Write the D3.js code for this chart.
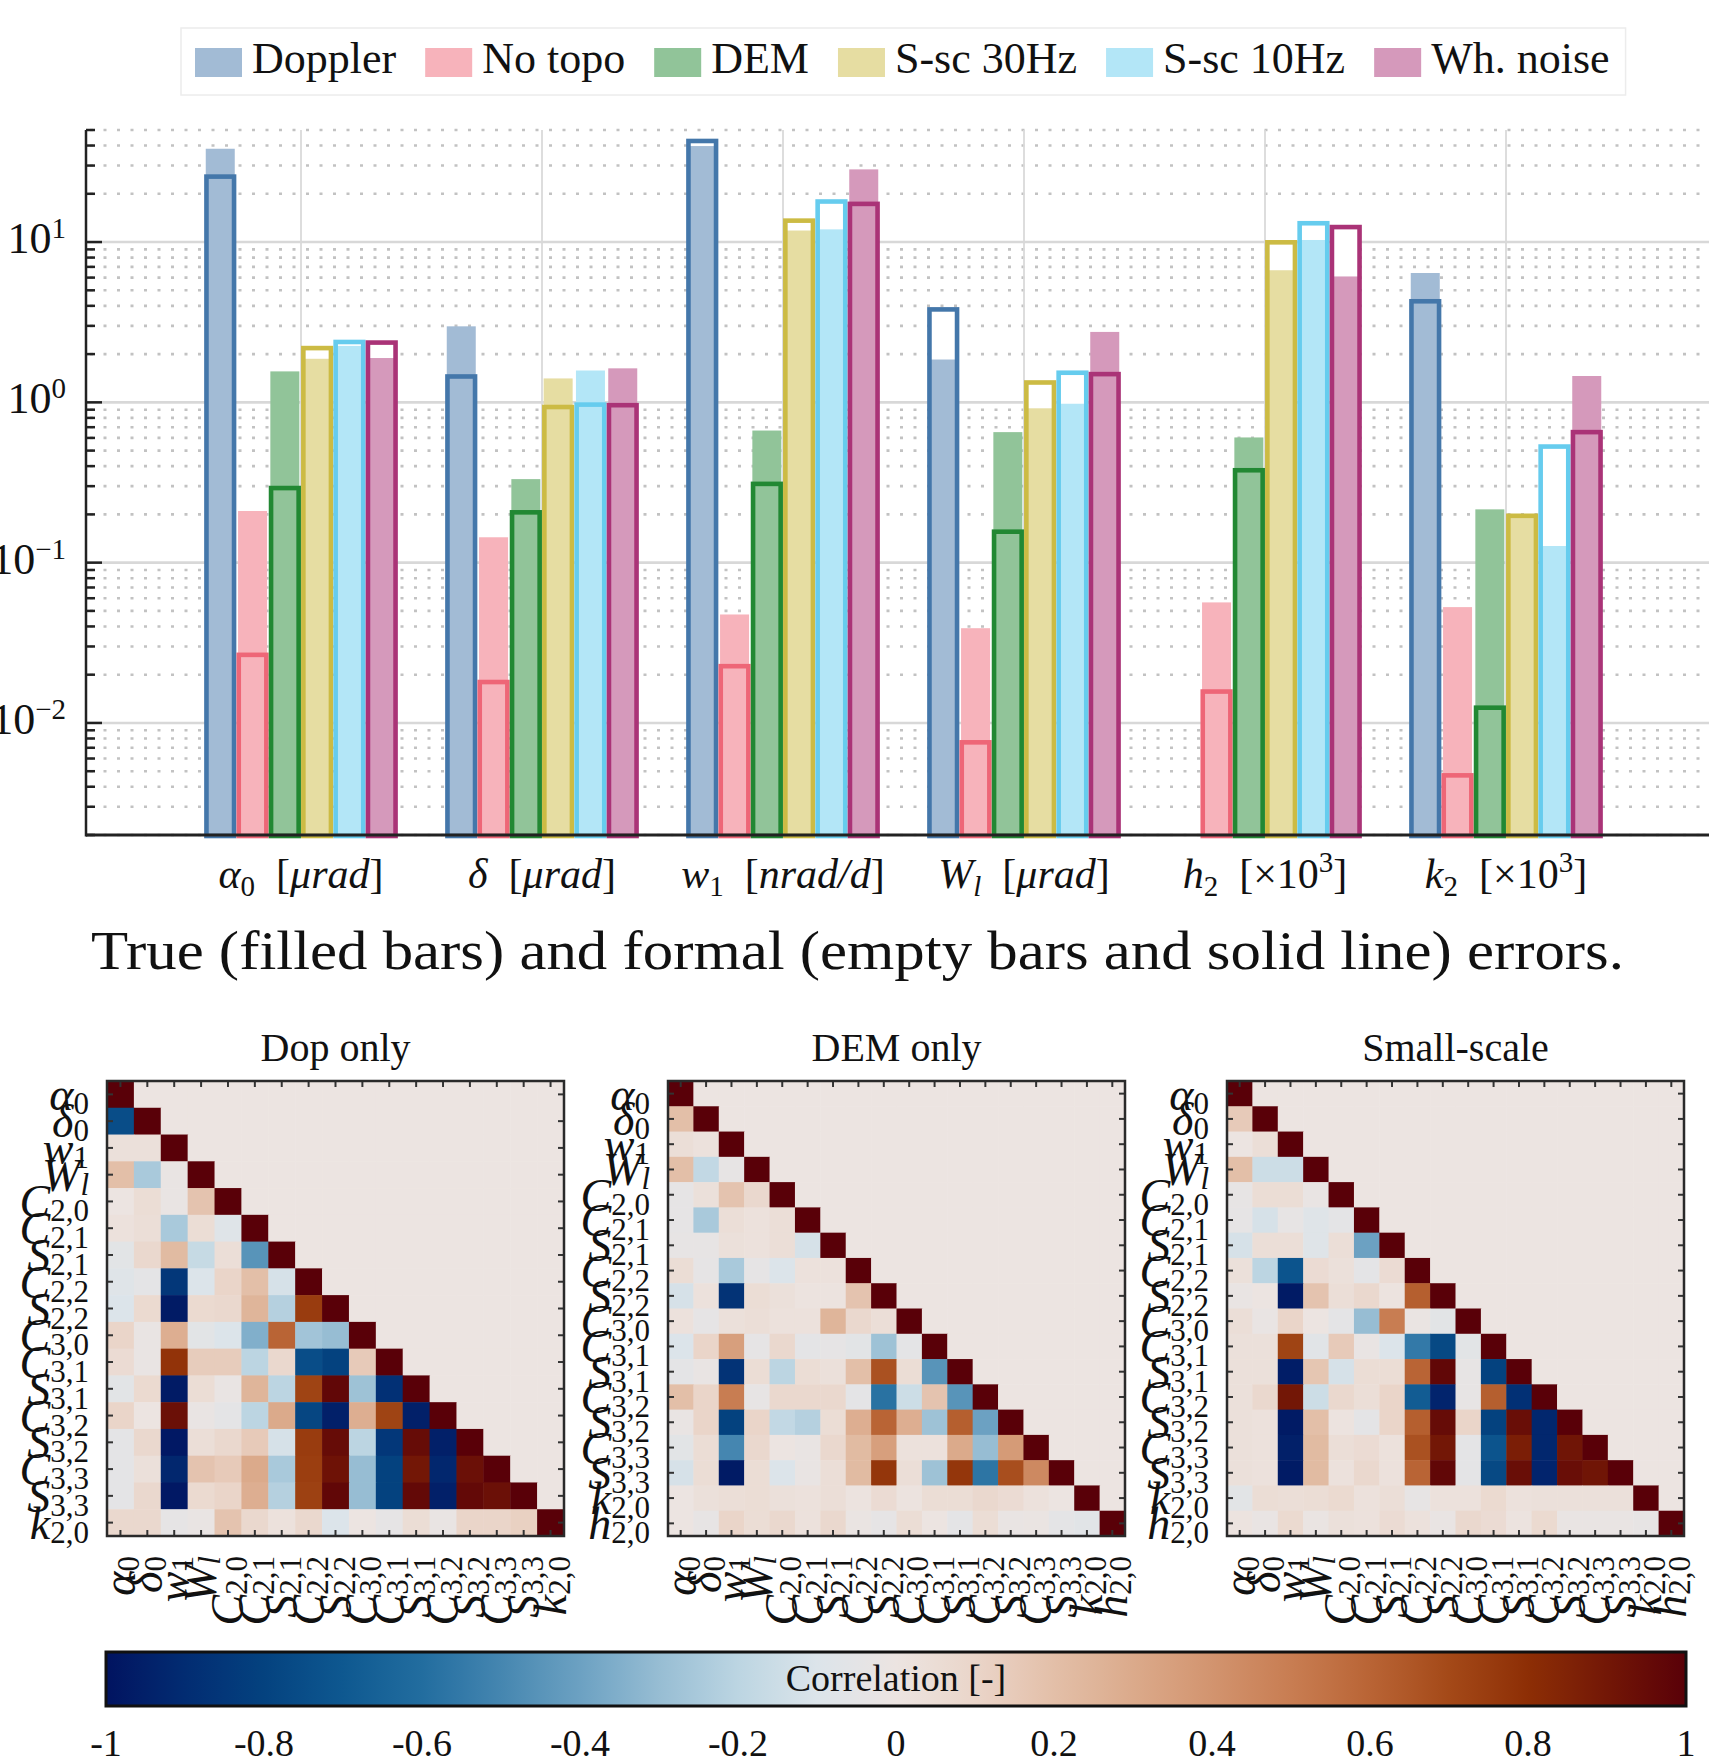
<!DOCTYPE html>
<html>
<head>
<meta charset="utf-8">
<script src="https://cdn.jsdelivr.net/npm/d3@7"></script>
<style>
  body { margin: 0; background: #fff; }
  svg { display: block; }
  text { font-family: "Liberation Serif", "DejaVu Serif", serif; fill: #111; }
</style>
</head>
<body>
<div id="chart"></div>
<script>
// ---------- bar chart data ----------
const series = ['Doppler', 'No topo', 'DEM', 'S-sc 30Hz', 'S-sc 10Hz', 'Wh. noise']
const seriesColors = ['#4477aa', '#ee6677', '#228833', '#ccbb44', '#66ccee', '#aa3377']

const paramSymbols = ['α', 'δ', 'w', 'W', 'h', 'k']
const paramSubs = ['0', '', '1', 'l', '2', '2']
const paramUnits = ['μrad', 'μrad', 'nrad/d', 'μrad', '×10^3', '×10^3']

// true errors (filled bars), one row per series, one value per parameter
const trueErrors = [
  [38.2, 2.98, 39.7, 1.85, null, 6.41],
  [0.21, 0.144, 0.0475, 0.039, 0.0565, 0.0528],
  [1.56, 0.332, 0.667, 0.652, 0.604, 0.215],
  [1.87, 1.41, 11.8, 0.918, 6.67, 0.19],
  [2.25, 1.58, 12.0, 0.98, 10.3, 0.127],
  [1.89, 1.63, 28.4, 2.75, 6.1, 1.46],
]
// formal errors (empty bars)
const formalErrors = [
  [25.6, 1.45, 42.7, 3.80, null, 4.27],
  [0.0266, 0.018, 0.0226, 0.00757, 0.0157, 0.00471],
  [0.292, 0.206, 0.31, 0.156, 0.377, 0.01245],
  [2.18, 0.935, 13.6, 1.33, 9.96, 0.196],
  [2.38, 0.968, 17.9, 1.53, 13.1, 0.53],
  [2.36, 0.96, 17.3, 1.50, 12.4, 0.652],
]

// ---------- correlation matrices (lower triangles, diagonal = 1) ----------
const labelsDop = [['α','0'],['δ','0'],['w','1'],['W','l'],['C','2,0'],['C','2,1'],['S','2,1'],['C','2,2'],['S','2,2'],
  ['C','3,0'],['C','3,1'],['S','3,1'],['C','3,2'],['S','3,2'],['C','3,3'],['S','3,3'],['k','2,0']]
const labelsFull = labelsDop.concat([['h','2,0']])

const corrDop = [
  [],
  [-0.75],
  [0.03, 0.03],
  [0.2, -0.25, -0.02],
  [0.0, 0.05, -0.02, 0.18],
  [0.02, 0.04, -0.25, 0.05, -0.08],
  [-0.06, 0.08, 0.22, -0.17, 0.04, -0.45],
  [-0.08, -0.05, -0.85, -0.1, 0.1, 0.2, -0.12],
  [-0.1, 0.07, -0.97, 0.07, 0.08, 0.25, -0.22, 0.75],
  [0.1, -0.02, 0.28, -0.06, -0.1, -0.35, 0.6, -0.27, -0.3],
  [0.06, -0.02, 0.78, 0.14, 0.14, -0.2, 0.08, -0.75, -0.8, 0.15],
  [-0.06, 0.07, -0.97, 0.05, -0.02, 0.25, -0.2, 0.72, 0.97, -0.28, -0.88],
  [0.1, 0.0, 0.93, -0.02, -0.05, -0.2, 0.3, -0.78, -0.95, 0.28, 0.72, -0.95],
  [-0.05, 0.08, -0.98, 0.04, 0.08, 0.15, -0.12, 0.75, 0.95, -0.2, -0.85, 0.95, -0.95],
  [-0.05, 0.03, -0.92, 0.18, 0.15, 0.3, -0.25, 0.74, 0.92, -0.3, -0.8, 0.9, -0.92, 0.93],
  [-0.05, 0.08, -0.98, 0.07, 0.1, 0.28, -0.22, 0.73, 0.97, -0.3, -0.8, 0.96, -0.95, 0.96, 0.93],
  [0.08, 0.08, -0.04, -0.02, 0.18, 0.08, 0.02, 0.08, -0.1, 0.0, -0.04, 0.05, -0.02, 0.1, 0.1, 0.12],
]

const corrDem = [
  [],
  [0.2],
  [0.04, 0.02],
  [0.2, -0.18, -0.03],
  [-0.04, 0.03, 0.18, 0.08],
  [-0.04, -0.25, 0.04, 0.02, 0.04],
  [-0.03, -0.03, 0.03, 0.02, 0.04, -0.12],
  [0.05, -0.04, -0.25, -0.04, -0.1, 0.02, 0.02],
  [-0.12, 0.02, -0.87, 0.05, 0.03, 0.01, 0.01, 0.18],
  [0.02, -0.04, 0.03, 0.04, 0.02, 0.02, 0.25, 0.08, 0.04],
  [-0.1, 0.1, 0.35, -0.04, 0.08, -0.05, -0.04, -0.06, -0.28, -0.05],
  [-0.05, -0.02, -0.87, 0.05, -0.2, 0.05, 0.03, 0.2, 0.67, 0.05, -0.45],
  [0.2, 0.1, 0.5, -0.03, 0.08, 0.08, 0.08, -0.05, -0.58, -0.15, 0.18, -0.45],
  [-0.02, 0.1, -0.8, 0.1, -0.18, -0.22, 0.05, 0.28, 0.6, 0.28, -0.28, 0.62, -0.4],
  [-0.06, 0.05, -0.5, 0.08, 0.0, -0.02, 0.08, 0.22, 0.35, 0.02, 0.02, 0.3, -0.3, 0.37],
  [-0.12, 0.05, -0.97, 0.05, -0.1, -0.02, 0.04, 0.22, 0.77, 0.04, -0.28, 0.77, -0.57, 0.68, 0.45],
  [0.0, 0.03, 0.04, 0.05, 0.03, 0.02, 0.04, 0.01, 0.06, 0.01, 0.05, 0.05, 0.08, 0.06, 0.02, 0.0],
  [0.0, -0.03, 0.1, 0.05, 0.08, 0.02, 0.08, -0.01, -0.04, 0.05, 0.0, -0.05, 0.05, -0.02, -0.01, -0.05, -0.07],
]

const corrSmall = [
  [],
  [0.15],
  [0.0, 0.04],
  [0.2, -0.15, -0.15],
  [-0.03, 0.05, 0.05, -0.02],
  [-0.04, -0.12, -0.03, -0.08, -0.05],
  [-0.12, 0.04, 0.04, -0.08, 0.04, -0.4],
  [0.03, -0.2, -0.72, 0.06, 0.03, -0.05, 0.06],
  [-0.02, 0.0, -0.97, 0.18, 0.04, 0.08, 0.01, 0.62],
  [0.04, -0.02, 0.1, 0.0, -0.05, -0.3, 0.5, -0.01, -0.06],
  [0.03, 0.03, 0.72, -0.07, 0.15, -0.02, -0.1, -0.55, -0.77, -0.06],
  [0.03, 0.03, -0.96, 0.17, -0.12, 0.05, 0.05, 0.6, 0.97, -0.03, -0.8],
  [0.03, 0.08, 0.9, -0.15, 0.08, 0.04, 0.1, -0.68, -0.93, -0.03, 0.62, -0.88],
  [0.03, 0.02, -0.97, 0.2, 0.01, -0.05, 0.1, 0.62, 0.95, 0.1, -0.8, 0.94, -0.92],
  [0.03, 0.02, -0.95, 0.22, 0.04, 0.06, 0.02, 0.67, 0.9, -0.05, -0.72, 0.87, -0.92, 0.91],
  [0.03, 0.02, -0.97, 0.22, 0.02, 0.08, 0.02, 0.6, 0.97, -0.05, -0.77, 0.94, -0.93, 0.94, 0.91],
  [-0.06, 0.05, 0.04, 0.05, 0.07, 0.02, 0.04, -0.03, 0.02, 0.02, 0.07, 0.02, 0.03, 0.03, 0.03, 0.03],
  [0.01, -0.02, 0.07, -0.01, 0.03, 0.02, 0.06, 0.02, -0.02, 0.08, 0.06, 0.01, 0.07, -0.02, -0.02, -0.02, -0.03],
]

const panelTitles = ['Dop only', 'DEM only', 'Small-scale']

// diverging colormap (vik-like), stops from -1 to 1 every 0.1
const vikStops = ['#011360', '#022c72', '#04427f', '#0e5890', '#226d9f', '#4586b0', '#6ca1c2', '#97bdd3',
  '#bcd5e2', '#dce4ea', '#ece4e1', '#ead5c9', '#e3bfa8', '#dbaa8b', '#d2946f', '#c87d52', '#b96435',
  '#a44918', '#8d2e05', '#731706', '#590008']
const colorTicks = d3.ticks(-1, 1, 10)

// ---------- setup ----------
const W = 1709, H = 1763
const svg = d3.select('#chart').append('svg').attr('width', W).attr('height', H)

const color = d3.scaleLinear()
  .domain(vikStops.map((_, i) => -1 + i * 0.1))
  .range(vikStops)
  .interpolate(d3.interpolateRgb)
  .clamp(true)

// ---------- bar chart ----------
const plot = { left: 86, right: 1709, top: 130, bottom: 835 }
const y = d3.scaleLog().domain([0.002, 50]).range([plot.bottom, plot.top])
const x = d3.scalePoint().domain(d3.range(paramSymbols.length)).range([301, 1506])
const slot = 32.3
const inner = d3.scaleBand().domain(d3.range(series.length)).range([-3 * slot, 3 * slot])
const isMajor = t => Math.abs(Math.log10(t) - Math.round(Math.log10(t))) < 1e-6

const grid = svg.append('g')
const ticks = y.ticks()

grid.selectAll('line.minor')
  .data(ticks.filter(t => !isMajor(t)))
  .join('line')
    .attr('class', 'minor')
    .attr('x1', plot.left + 4).attr('x2', plot.right)
    .attr('y1', d => y(d)).attr('y2', d => y(d))
    .attr('stroke', '#c2c2c2').attr('stroke-width', 2.6)
    .attr('stroke-dasharray', '3 10.5')

grid.selectAll('line.vert')
  .data(x.domain())
  .join('line')
    .attr('class', 'vert')
    .attr('x1', d => x(d)).attr('x2', d => x(d))
    .attr('y1', plot.top).attr('y2', plot.bottom)
    .attr('stroke', '#dadada').attr('stroke-width', 1.8)

grid.selectAll('line.major')
  .data(ticks.filter(isMajor))
  .join('line')
    .attr('class', 'major')
    .attr('x1', plot.left).attr('x2', plot.right)
    .attr('y1', d => y(d)).attr('y2', d => y(d))
    .attr('stroke', '#d8d8d8').attr('stroke-width', 2.6)

const bars = []
series.forEach((s, si) => {
  paramSymbols.forEach((p, pi) => {
    bars.push({ si, pi, t: trueErrors[si][pi], f: formalErrors[si][pi],
      cx: x(pi) + inner(si) + inner.bandwidth() / 2 })
  })
})
const present = bars.filter(d => d.t != null)
const light = c => d3.interpolateRgb(c, '#fff')(0.5)

const barG = svg.append('g')
barG.selectAll('rect.under')
  .data(present)
  .join('rect')
    .attr('class', 'under')
    .attr('x', d => d.cx - 13.8).attr('width', 27.6)
    .attr('y', d => y(d.f)).attr('height', d => plot.bottom - y(d.f))
    .attr('fill', '#fff')
barG.selectAll('rect.fillbar')
  .data(present)
  .join('rect')
    .attr('class', 'fillbar')
    .attr('x', d => d.cx - 14.5).attr('width', 29)
    .attr('y', d => y(d.t)).attr('height', d => plot.bottom - y(d.t))
    .attr('fill', d => light(seriesColors[d.si]))
barG.selectAll('rect.outline')
  .data(present)
  .join('rect')
    .attr('class', 'outline')
    .attr('x', d => d.cx - 13.8).attr('width', 27.6)
    .attr('y', d => y(d.f)).attr('height', d => plot.bottom - y(d.f) + 1)
    .attr('fill', 'none')
    .attr('stroke', d => seriesColors[d.si])
    .attr('stroke-width', 4.6)

// axes
const axG = svg.append('g').attr('stroke', '#222')
axG.append('line').attr('x1', plot.left).attr('x2', plot.left)
  .attr('y1', plot.top).attr('y2', plot.bottom + 1.5).attr('stroke-width', 2.5)
axG.append('line').attr('x1', plot.left).attr('x2', plot.right)
  .attr('y1', plot.bottom).attr('y2', plot.bottom).attr('stroke-width', 3)
axG.selectAll('line.tick')
  .data(ticks)
  .join('line')
    .attr('class', 'tick')
    .attr('x1', plot.left).attr('x2', d => plot.left + (isMajor(d) ? 16 : 9))
    .attr('y1', d => y(d)).attr('y2', d => y(d))
    .attr('stroke-width', 2.5)

svg.append('g').selectAll('text')
  .data(ticks.filter(isMajor))
  .join('text')
    .attr('x', 66).attr('y', d => y(d) + 11)
    .attr('text-anchor', 'end')
    .attr('font-size', 44)
    .each(function (d) {
      const e = Math.round(Math.log10(d))
      const t = d3.select(this)
      t.append('tspan').text('10')
      t.append('tspan').attr('font-size', 29).attr('dy', -15).text(e < 0 ? '−' + (-e) : e)
    })

// category labels
svg.append('g').selectAll('text')
  .data(x.domain())
  .join('text')
    .attr('x', d => x(d)).attr('y', 888)
    .attr('text-anchor', 'middle')
    .attr('font-size', 42)
    .each(function (i) {
      const t = d3.select(this)
      t.append('tspan').attr('font-style', 'italic').text(paramSymbols[i])
      let shift = 0
      if (paramSubs[i]) {
        t.append('tspan').attr('font-size', 29).attr('dy', 8)
          .attr('font-style', paramSubs[i] === 'l' ? 'italic' : 'normal').text(paramSubs[i])
        shift = 8
      }
      t.append('tspan').attr('dy', -shift).text('\u2002[')
      const u = paramUnits[i]
      if (u.includes('^')) {
        const [base, pow] = u.split('^')
        t.append('tspan').text(base)
        t.append('tspan').attr('font-size', 29).attr('dy', -16).text(pow)
        t.append('tspan').attr('dy', 16).text(']')
      } else {
        t.append('tspan').attr('font-style', 'italic').text(u)
        t.append('tspan').text(']')
      }
    })

// legend
const legG = svg.append('g')
const legBox = legG.append('rect')
let lx = 195
series.forEach((s, i) => {
  legG.append('rect').attr('x', lx).attr('y', 48).attr('width', 47).attr('height', 29)
    .attr('fill', light(seriesColors[i]))
  const t = legG.append('text').attr('x', lx + 57).attr('y', 73).attr('font-size', 44).text(s)
  lx = lx + 57 + t.node().getComputedTextLength() + 29
})
legBox.attr('x', 181).attr('y', 28).attr('width', lx - 29 + 16 - 181).attr('height', 67)
  .attr('fill', '#fff').attr('stroke', '#ececec').attr('stroke-width', 1.5)

// caption
svg.append('text')
  .attr('x', 91).attr('y', 969)
  .attr('font-size', 54)
  .attr('textLength', 1533).attr('lengthAdjust', 'spacingAndGlyphs')
  .text('True (filled bars) and formal (empty bars and solid line) errors.')

// ---------- heatmaps ----------
const panels = [
  { x0: 107, m: corrDop, labels: labelsDop },
  { x0: 668, m: corrDem, labels: labelsFull },
  { x0: 1227, m: corrSmall, labels: labelsFull },
]
const hm = { top: 1081, size: 457, height: 455 }

function addLabel(t, lab) {
  t.append('tspan').attr('font-style', 'italic').text(lab[0])
  t.append('tspan').attr('font-size', 31).attr('dy', 4)
    .attr('font-style', lab[1] === 'l' ? 'italic' : 'normal').text(lab[1])
}

panels.forEach((p, k) => {
  const n = p.labels.length
  const bx = d3.scaleBand().domain(d3.range(n)).range([p.x0, p.x0 + hm.size])
  const by = d3.scaleBand().domain(d3.range(n)).range([hm.top, hm.top + hm.height])
  const g = svg.append('g')

  const cells = []
  for (let i = 0; i < n; i++) {
    for (let j = 0; j < n; j++) {
      cells.push({ i, j, v: i === j ? 1 : (j < i ? p.m[i][j] : 0) })
    }
  }
  g.selectAll('rect.cell')
    .data(cells)
    .join('rect')
      .attr('class', 'cell')
      .attr('x', d => bx(d.j)).attr('y', d => by(d.i))
      .attr('width', bx.bandwidth() + 0.5).attr('height', by.bandwidth() + 0.5)
      .attr('fill', d => color(d.v))

  // ticks on all four sides
  const tk = g.append('g').attr('stroke', '#333').attr('stroke-width', 2)
  d3.range(n).forEach(i => {
    const cx = bx(i) + bx.bandwidth() / 2
    const cy = by(i) + by.bandwidth() / 2
    tk.append('line').attr('x1', cx).attr('x2', cx).attr('y1', hm.top).attr('y2', hm.top + 6)
    tk.append('line').attr('x1', cx).attr('x2', cx).attr('y1', hm.top + hm.height).attr('y2', hm.top + hm.height - 6)
    tk.append('line').attr('y1', cy).attr('y2', cy).attr('x1', p.x0).attr('x2', p.x0 + 6)
    tk.append('line').attr('y1', cy).attr('y2', cy).attr('x1', p.x0 + hm.size).attr('x2', p.x0 + hm.size - 6)
  })

  g.append('rect')
    .attr('x', p.x0).attr('y', hm.top).attr('width', hm.size).attr('height', hm.height)
    .attr('fill', 'none').attr('stroke', '#2a2a2a').attr('stroke-width', 2.5)

  g.selectAll('text.row')
    .data(p.labels)
    .join('text')
      .attr('class', 'row')
      .attr('x', p.x0 - 18)
      .attr('y', (d, i) => by(i) + by.bandwidth() / 2 + 16)
      .attr('text-anchor', 'end')
      .attr('font-size', 46)
      .each(function (d) { addLabel(d3.select(this), d) })

  g.selectAll('text.col')
    .data(p.labels)
    .join('text')
      .attr('class', 'col')
      .attr('transform', (d, i) => `translate(${bx(i) + bx.bandwidth() / 2 + 15},${hm.top + hm.height + 20}) rotate(-90)`)
      .attr('text-anchor', 'end')
      .attr('font-size', 46)
      .each(function (d) { addLabel(d3.select(this), d) })

  g.append('text')
    .attr('x', p.x0 + hm.size / 2).attr('y', 1061)
    .attr('text-anchor', 'middle')
    .attr('font-size', 40)
    .text(panelTitles[k])
})

// ---------- colorbar ----------
const cb = { x0: 106, x1: 1686, y0: 1652, y1: 1706 }
const cx = d3.scaleLinear().domain([-1, 1]).range([cb.x0, cb.x1])
const grad = svg.append('defs').append('linearGradient').attr('id', 'cbar')
grad.selectAll('stop')
  .data(d3.range(0, 1.0001, 0.025))
  .join('stop')
    .attr('offset', d => d)
    .attr('stop-color', d => color(-1 + 2 * d))
svg.append('rect')
  .attr('x', cb.x0).attr('y', cb.y0).attr('width', cb.x1 - cb.x0).attr('height', cb.y1 - cb.y0)
  .attr('fill', 'url(#cbar)').attr('stroke', '#111').attr('stroke-width', 3)
svg.append('text')
  .attr('x', (cb.x0 + cb.x1) / 2).attr('y', 1691)
  .attr('text-anchor', 'middle').attr('font-size', 38)
  .text('Correlation [-]')
svg.append('g').selectAll('text')
  .data(colorTicks)
  .join('text')
    .attr('x', d => cx(d)).attr('y', 1756)
    .attr('text-anchor', 'middle').attr('font-size', 38)
    .text(d => String(d))
</script>
</body>
</html>
